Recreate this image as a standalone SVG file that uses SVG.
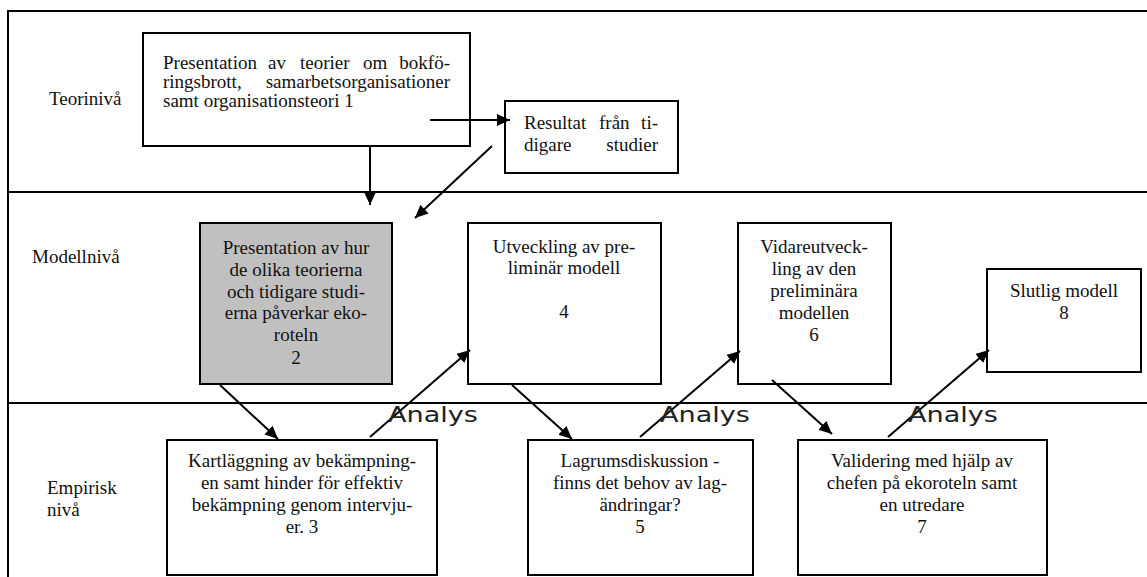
<svg xmlns="http://www.w3.org/2000/svg" width="1147" height="577" viewBox="0 0 1147 577">
<style>
.frame{stroke:#000;stroke-width:2;fill:none}
.box{stroke:#000;stroke-width:2;fill:#fff}
.gray{fill:#c0c0c0}
.t{font-family:"Liberation Serif","Times New Roman",serif;font-size:19px;fill:#111}
.c{text-anchor:middle}
.e{text-anchor:end}
.an{font-family:"DejaVu Sans","Liberation Sans",sans-serif;font-size:22px;fill:#222}
.con{stroke:#000;stroke-width:2;fill:none}
</style>
<defs>
<marker id="ah" markerUnits="userSpaceOnUse" markerWidth="14" markerHeight="12" refX="13" refY="6" orient="auto">
<path d="M0,0 L13,6 L0,12 z" fill="#000"/>
</marker>
</defs>
<rect width="1147" height="577" fill="#fff"/>
<g id="frame">
<line class="frame" x1="8" y1="11" x2="1147" y2="11"/>
<line class="frame" x1="8" y1="10" x2="8" y2="577"/>
<line class="frame" x1="8" y1="192" x2="1147" y2="192"/>
<line class="frame" x1="8" y1="403" x2="1147" y2="403"/>
<text class="t" x="49" y="105">Teorinivå</text>
<text class="t" x="32" y="263">Modellnivå</text>
<text class="t" x="47" y="494">Empirisk</text>
<text class="t" x="47" y="516">nivå</text>
</g>
<g id="node1">
<rect class="box" x="143" y="33" width="327" height="113"/>
<text class="t" y="69"><tspan x="163">Presentation</tspan><tspan x="268">av</tspan><tspan x="300">teorier</tspan><tspan x="363">om</tspan></text>
<text class="t e" x="450" y="69">bokfö-</text>
<text class="t" x="163" y="88">ringsbrott,</text>
<text class="t e" x="450" y="88">samarbetsorganisationer</text>
<text class="t" x="163" y="107">samt organisationsteori 1</text>
</g>
<g id="resultat">
<rect class="box" x="505" y="101" width="173" height="72"/>
<text class="t" y="129"><tspan x="524">Resultat</tspan><tspan x="599">från</tspan></text>
<text class="t e" x="658" y="129">ti-</text>
<text class="t" x="524" y="151">digare</text>
<text class="t e" x="658" y="151">studier</text>
</g>
<g id="node2">
<rect class="box gray" x="200" y="223" width="192" height="161"/>
<text class="t c" x="296" y="254">Presentation av hur</text>
<text class="t c" x="296" y="276">de olika teorierna</text>
<text class="t c" x="296" y="298">och tidigare studi-</text>
<text class="t c" x="296" y="319">erna påverkar eko-</text>
<text class="t c" x="296" y="341">roteln</text>
<text class="t c" x="296" y="364">2</text>
</g>
<g id="node4">
<rect class="box" x="468" y="223" width="193" height="161"/>
<text class="t c" x="564" y="253">Utveckling av pre-</text>
<text class="t c" x="564" y="274">liminär modell</text>
<text class="t c" x="564" y="318">4</text>
</g>
<g id="node6">
<rect class="box" x="738" y="223" width="153" height="161"/>
<text class="t c" x="814" y="253">Vidareutveck-</text>
<text class="t c" x="814" y="275">ling av den</text>
<text class="t c" x="814" y="297">preliminära</text>
<text class="t c" x="814" y="319">modellen</text>
<text class="t c" x="814" y="341">6</text>
</g>
<g id="node8">
<rect class="box" x="987" y="269" width="154" height="103"/>
<text class="t c" x="1064" y="297">Slutlig modell</text>
<text class="t c" x="1064" y="319">8</text>
</g>
<g id="node3">
<rect class="box" x="167" y="440" width="270" height="135"/>
<text class="t c" x="302" y="467">Kartläggning av bekämpning-</text>
<text class="t c" x="302" y="489">en samt hinder för effektiv</text>
<text class="t c" x="302" y="511">bekämpning genom intervju-</text>
<text class="t c" x="302" y="533">er. 3</text>
</g>
<g id="node5">
<rect class="box" x="528" y="440" width="225" height="135"/>
<text class="t c" x="640" y="467">Lagrumsdiskussion -</text>
<text class="t c" x="640" y="489">finns det behov av lag-</text>
<text class="t c" x="640" y="511">ändringar?</text>
<text class="t c" x="640" y="533">5</text>
</g>
<g id="node7">
<rect class="box" x="798" y="440" width="249" height="135"/>
<text class="t c" x="922" y="467">Validering med hjälp av</text>
<text class="t c" x="922" y="489">chefen på ekoroteln samt</text>
<text class="t c" x="922" y="511">en utredare</text>
<text class="t c" x="922" y="533">7</text>
</g>
<g id="connectors">
<line class="con" x1="370" y1="146" x2="370" y2="205" marker-end="url(#ah)"/>
<line class="con" x1="430" y1="120" x2="510" y2="120" marker-end="url(#ah)"/>
<line class="con" x1="492" y1="146" x2="415" y2="218" marker-end="url(#ah)"/>
<line class="con" x1="220" y1="385" x2="278" y2="439" marker-end="url(#ah)"/>
<line class="con" x1="370" y1="437" x2="470" y2="350" marker-end="url(#ah)"/>
<line class="con" x1="512" y1="385" x2="572" y2="439" marker-end="url(#ah)"/>
<line class="con" x1="640" y1="437" x2="740" y2="351" marker-end="url(#ah)"/>
<line class="con" x1="772" y1="380" x2="832" y2="434" marker-end="url(#ah)"/>
<line class="con" x1="888" y1="437" x2="989" y2="350" marker-end="url(#ah)"/>
</g>
<g id="analys">
<text class="an" x="388" y="422" textLength="90" lengthAdjust="spacingAndGlyphs">Analys</text>
<text class="an" x="660" y="422" textLength="90" lengthAdjust="spacingAndGlyphs">Analys</text>
<text class="an" x="908" y="422" textLength="90" lengthAdjust="spacingAndGlyphs">Analys</text>
</g>
</svg>
